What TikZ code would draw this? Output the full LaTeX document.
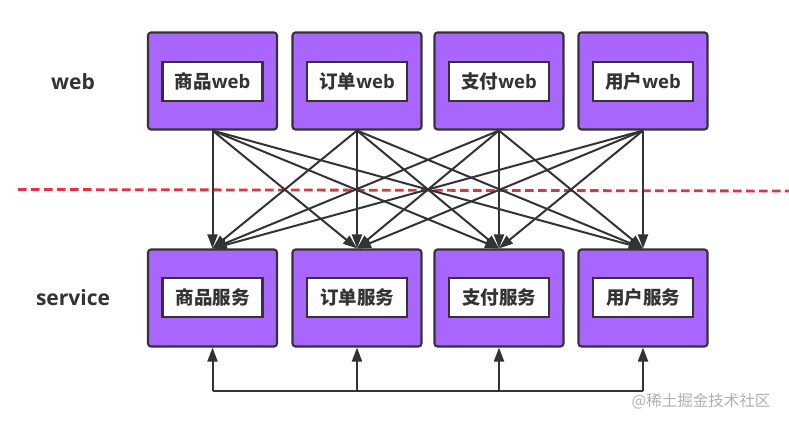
\documentclass[tikz,border=0pt]{standalone}
\usepackage{fontspec}
\setmainfont{Open Sans}
\newfontfamily\cjk{Noto Sans CJK SC}
\usetikzlibrary{arrows.meta}
\definecolor{boxpurple}{RGB}{168,102,255}
\definecolor{ink}{RGB}{51,51,51}
\definecolor{dashred}{RGB}{236,48,58}
\definecolor{wmgray}{RGB}{175,175,175}
\begin{document}
\begin{tikzpicture}[x=1pt,y=-1pt,
  outer/.style={draw=ink, line width=2.1pt, fill=boxpurple, rounded corners=3pt,
    minimum width=129pt, minimum height=97pt, inner sep=0pt},
  inner/.style={draw=ink, line width=2.1pt, fill=white, minimum width=100pt,
    minimum height=39pt, inner sep=0pt, text=ink,
    font=\bfseries\fontsize{18.5}{20}\selectfont},
  layer/.style={text=ink, font=\bfseries\fontsize{21}{23}\selectfont},
  conn/.style={draw=ink, line width=2pt, -{Triangle[length=14pt,width=10pt]}},
  loopline/.style={draw=ink, line width=2pt},
  sep/.style={draw=dashred, line width=2.8pt, dash pattern=on 8.5pt off 4.5pt}
]
\useasboundingbox (0,0) rectangle (789,424);

% layer labels
\node[layer] (lweb) at (73,82) {web};
\node[layer] (lsvc) at (73,298) {service};

% top row
\foreach \i/\x/\t in {1/212.5/商品, 2/357/订单, 3/499/支付, 4/643/用户}{
  \node[outer] (t\i) at (\x,81) {};
  \node[inner] (ti\i) at (\x,81.5) {{\cjk\bfseries \t}web};
}
% bottom row
\foreach \i/\x/\t in {1/212.5/商品, 2/357/订单, 3/499/支付, 4/643/用户}{
  \node[outer] (b\i) at (\x,298) {};
  \node[inner] (bi\i) at (\x,297.5) {\cjk\bfseries \t 服务};
  \coordinate (c\i) at (\x,391);
}

% dashed separator
\coordinate (d1) at (18,189.5);
\coordinate (d2) at (789,191);
\draw[sep] (d1) -- (d2);

% all-to-all connectors
\foreach \i in {1,...,4}{
  \foreach \j in {1,...,4}{
    \draw[conn] (t\i.south) -- (b\j.north);
  }
}

% bottom bus
\draw[loopline] (c1) -- (c4);
\foreach \i in {1,...,4}{
  \draw[conn] (c\i) -- (b\i.south);
}

% watermark
\node[text=wmgray, font=\cjk\fontsize{15.5}{17}\selectfont] (wm) at (701,401) {@稀土掘金技术社区};
\end{tikzpicture}
\end{document}
